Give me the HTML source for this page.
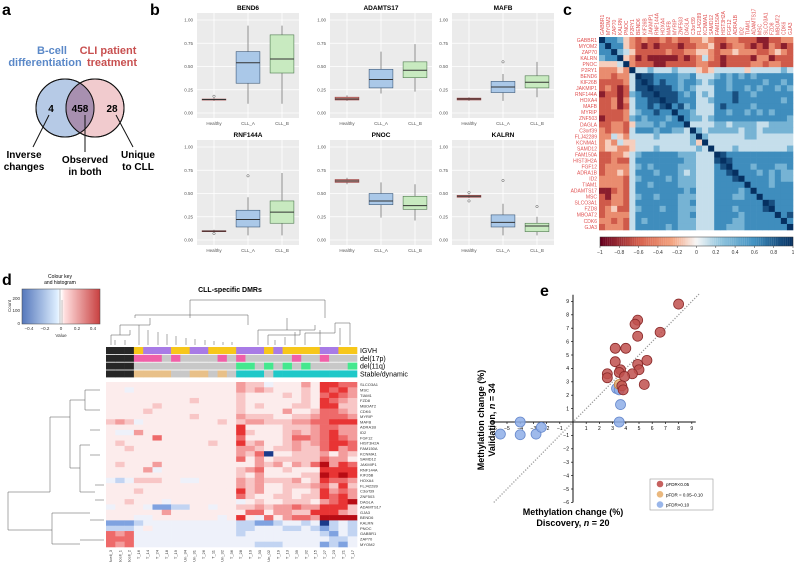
<!DOCTYPE html>
<html><head><meta charset="utf-8"><style>
body{margin:0;background:#fff;}
svg{display:block;font-family:"Liberation Sans",sans-serif;}
</style></head><body>
<svg id="fig" width="794" height="562" viewBox="0 0 794 562" xmlns="http://www.w3.org/2000/svg">
<g>
<text x="2" y="15" font-size="16" font-weight="bold">a</text>
<circle cx="65" cy="108" r="29" fill="#a9c1e2" fill-opacity="0.85" stroke="#111" stroke-width="1"/>
<circle cx="95" cy="108" r="29" fill="#e8a9ad" fill-opacity="0.6" stroke="#111" stroke-width="1"/>
<path d="M80,83 A29,29 0 0 1 80,133 A29,29 0 0 1 80,83Z" fill="#a890b0"/>
<circle cx="65" cy="108" r="29" fill="none" stroke="#111" stroke-width="1"/>
<circle cx="95" cy="108" r="29" fill="none" stroke="#111" stroke-width="1"/>
<text x="52" y="54" font-size="11" font-weight="bold" fill="#5a88c8" text-anchor="middle">B-cell</text>
<text x="45" y="66" font-size="11" font-weight="bold" fill="#5a88c8" text-anchor="middle">differentiation</text>
<text x="108" y="54" font-size="11" font-weight="bold" fill="#c85050" text-anchor="middle">CLI patient</text>
<text x="112" y="66" font-size="11" font-weight="bold" fill="#c85050" text-anchor="middle">treatment</text>
<text x="51" y="112" font-size="10" font-weight="bold" text-anchor="middle">4</text>
<text x="80" y="112" font-size="10" font-weight="bold" text-anchor="middle">458</text>
<text x="112" y="112" font-size="10" font-weight="bold" text-anchor="middle">28</text>
<line x1="49" y1="115" x2="33" y2="147" stroke="#111"/>
<line x1="85" y1="115" x2="85" y2="152" stroke="#111"/>
<line x1="116" y1="115" x2="133" y2="147" stroke="#111"/>
<text x="24" y="158" font-size="10" font-weight="bold" text-anchor="middle">Inverse</text>
<text x="24" y="170" font-size="10" font-weight="bold" text-anchor="middle">changes</text>
<text x="85" y="163" font-size="10" font-weight="bold" text-anchor="middle">Observed</text>
<text x="85" y="175" font-size="10" font-weight="bold" text-anchor="middle">in both</text>
<text x="138" y="158" font-size="10" font-weight="bold" text-anchor="middle">Unique</text>
<text x="138" y="170" font-size="10" font-weight="bold" text-anchor="middle">to CLL</text>
</g>
<text x="150" y="15" font-size="16" font-weight="bold">b</text>
<text x="563" y="15" font-size="16" font-weight="bold">c</text>
<text x="2" y="285" font-size="16" font-weight="bold">d</text>
<text x="540" y="296" font-size="16" font-weight="bold">e</text>
<g id="pb"></g>
<g id="pc"></g>
<g id="pd">
<text x="230" y="292" font-size="7" font-weight="bold" text-anchor="middle">CLL-specific DMRs</text>
<text x="60" y="278" font-size="5" text-anchor="middle">Colour key</text>
<text x="60" y="284" font-size="5" text-anchor="middle">and histogram</text>
<defs><linearGradient id="ck" x1="0" x2="1"><stop offset="0" stop-color="#5577bb"/><stop offset="0.45" stop-color="#ddeeff"/><stop offset="0.5" stop-color="#ffffff"/><stop offset="0.55" stop-color="#ffdddd"/><stop offset="1" stop-color="#c84040"/></linearGradient></defs>
<rect x="22" y="289" width="78" height="35" fill="url(#ck)" stroke="#444" stroke-width="0.5"/>
<path d="M60,289 L60,324 M62,300 L62,324" stroke="#888" stroke-width="0.5" fill="none"/>
<g font-size="4.5" fill="#333"><text x="20" y="325" text-anchor="end">0</text><text x="20" y="312" text-anchor="end">100</text><text x="20" y="300" text-anchor="end">200</text>
<text x="29" y="330" text-anchor="middle">−0.4</text><text x="45" y="330" text-anchor="middle">−0.2</text><text x="61" y="330" text-anchor="middle">0</text><text x="77" y="330" text-anchor="middle">0.2</text><text x="93" y="330" text-anchor="middle">0.4</text>
<text x="61" y="337" text-anchor="middle">Value</text><text x="11" y="306" transform="rotate(-90 11 306)" text-anchor="middle">Count</text></g>
<g stroke="#555" stroke-width="0.5" fill="none">
<path d="M190,318 V300 H325 V318 M135,318 V315 H248 V325 M120,335 V325 H150 V318 M111,345 V335 H130 V330 M115,345 V340 M125,345 V340 M139,345 V325 M148,345 V330 M158,345 V332 M167,345 V334 M176,345 V336 M186,345 V338 M195,345 V339 M205,345 V340 M214,345 V341 M223,345 V342 M232,345 V342 M287,318 V330 H258 V345 M287,330 H315 V325 M268,345 V335 H300 V330 M275,345 V340 M285,345 V337 M295,345 V332 M305,345 V333 H335 V323 H350 V345 M320,345 V330 M340,345 V328"/>
</g>
<g stroke="#555" stroke-width="0.5" fill="none">
<path d="M8,492 H50 V417 H70 M8,492 V530 H50 M50,530 H52 V513 H90 M52,530 V544 H80 M70,400 V468 M70,400 H85 V390 H100 M85,400 V410 H100 M70,468 H80 V445 H90 M80,468 V492 H95 M90,430 H100 M90,455 H100 M95,485 H104 M95,500 H104 M90,520 H104 M80,540 H104"/>
</g>
</g>
<g id="pe"></g>
</svg>
<script>
const NS="http://www.w3.org/2000/svg";
function mk(tag,attrs,parent,txt){const e=document.createElementNS(NS,tag);for(const k in attrs)e.setAttribute(k,attrs[k]);if(txt!==undefined)e.textContent=txt;parent.appendChild(e);return e;}

const genes=["BEND6","ADAMTS17","MAFB","RNF144A","PNOC","KALRN"];
const groups=["Healthy","CLL_A","CLL_B"];
const healthyStats=[[0.13,0.14,0.145,0.15,0.16],[0.13,0.14,0.15,0.17,0.19],[0.13,0.14,0.15,0.16,0.17],[0.08,0.09,0.095,0.10,0.11],[0.60,0.62,0.635,0.65,0.67],[0.45,0.46,0.47,0.48,0.49]];
const cllAStats=[[0.10,0.32,0.54,0.66,0.94],[0.21,0.27,0.36,0.47,0.66],[0.13,0.22,0.28,0.34,0.42],[0.05,0.14,0.22,0.32,0.46],[0.24,0.38,0.42,0.50,0.62],[0.05,0.14,0.19,0.27,0.39]];
const cllBStats=[[0.10,0.43,0.58,0.84,0.94],[0.23,0.38,0.46,0.55,0.74],[0.17,0.27,0.33,0.40,0.55],[0.05,0.18,0.30,0.42,0.72],[0.21,0.33,0.37,0.47,0.60],[0.05,0.09,0.15,0.18,0.25]];
const outliersH=[[0.18],[],[],[0.07],[],[0.51,0.42]];
const outliersA=[[],[],[0.55],[0.69],[],[0.64]];
const outliersB=[[],[],[],[],[],[0.36]];
const bTicks=[0,0.25,0.5,0.75,1.0];
const bTickLabels=["0.00","0.25","0.50","0.75","1.00"];

(function(){
 const pb=document.getElementById('pb');
 const px=[197,330,452], py=[13,140], pw=102, ph=[105,105];
 const fills=["#d4948c","#aac8e8","#c8eac0"], strokes=["#9a3a3a","#3c5878","#4f7a4f"];
 const stats=[healthyStats,cllAStats,cllBStats], outs=[outliersH,outliersA,outliersB];
 genes.forEach((g,gi)=>{
  const x0=px[gi%3], y0=py[Math.floor(gi/3)];
  const yTop=y0+7, yBot=y0+100;
  const Y=v=>yBot-(v-0)*(yBot-yTop)/1.0;
  const X=i=>x0+pw*(i+0.5)/3;
  const grp=mk('g',{},pb);
  
  
  mk('rect',{x:x0,y:y0,width:pw,height:ph[0],fill:"#ebebeb"},grp);
  bTicks.forEach((t,ti)=>{
   mk('line',{x1:x0,x2:x0+pw,y1:Y(t),y2:Y(t),stroke:"#fff","stroke-width":0.8},grp);
   const tl=mk('text',{x:x0-4,y:Y(t)+1.5,"font-size":4.5,fill:"#555","text-anchor":"end"},grp,bTickLabels[ti]);
   
   
  });
  groups.forEach((gr,i)=>{mk('line',{x1:X(i),x2:X(i),y1:y0,y2:y0+ph[0],stroke:"#fff","stroke-width":0.8},grp);
   const xl=mk('text',{x:X(i),y:y0+ph[0]+7,"font-size":4.5,fill:"#555","text-anchor":"middle"},grp,gr);
   
   
  });
  const tt=mk('text',{x:x0+pw/2,y:y0-3,"font-size":6.5,"font-weight":"bold","text-anchor":"middle"},grp,g);
  
  
  groups.forEach((gr,i)=>{
   const s=stats[i][gi], cx=X(i), w=pw/3*0.7;
   mk('line',{x1:cx,x2:cx,y1:Y(s[0]),y2:Y(s[4]),stroke:"#777","stroke-width":0.8},grp);
   const bx=mk('rect',{x:cx-w/2,y:Y(s[3]),width:w,height:Math.max(1,Y(s[1])-Y(s[3])),fill:fills[i],stroke:strokes[i],"stroke-width":0.6},grp);
   
   
   mk('line',{x1:cx-w/2,x2:cx+w/2,y1:Y(s[2]),y2:Y(s[2]),stroke:"#333","stroke-width":1},grp);
   outs[i][gi].forEach(o=>{const c=mk('circle',{cx:cx,cy:Y(o),r:1.2,fill:"none",stroke:"#555","stroke-width":0.5},grp);
    
    });
  });
 });
})();

const corrGenes=["GABBR1","MYOM2","ZAP70","KALRN","PNOC","P2RY1","BEND6","KIF26B","JAKMIP1","RNF144A","HOXA4","MAFB","MYRIP","ZNF503","DAGLA","C3orf39","FLJ42289","KCNMA1","SAMD12","FAM150A","HIST3H2A","FGF12","ADRA1B","ID2","TIAM1","ADAMTS17","MSC","SLCO3A1","FZD8","MBOAT2","CDK6","GJA3"];
const corrRows=[
"97764"+"3"+"2322323223"+"343"+"2233222112233",
"79774"+"3"+"2121222122"+"334"+"2123321213212",
"77965"+"4"+"2222232233"+"443"+"2334333223432",
"67794"+"3"+"1211111212"+"353"+"2122221331222",
"44459"+"3"+"2221122222"+"332"+"2122223323322",
"33343"+"9"+"5565556555"+"434"+"5555545555565",
"33233"+"5"+"9887777667"+"555"+"6767676777777",
"22223"+"5"+"8987877677"+"656"+"7767777767767",
"23212"+"5"+"8898887676"+"555"+"7767767677676",
"12212"+"6"+"7889888767"+"565"+"7778776777777",
"22313"+"5"+"7788988777"+"556"+"7778777777767",
"22312"+"5"+"7787897867"+"555"+"7877776777777",
"22223"+"5"+"6778779776"+"555"+"7767767676777",
"12223"+"6"+"7677767976"+"656"+"7777777777776",
"22332"+"4"+"6667677795"+"555"+"6656666556666",
"32332"+"5"+"7776776659"+"656"+"6666566566666",
"33543"+"5"+"5556555556"+"965"+"5555566555555",
"34354"+"4"+"5555555556"+"495"+"5555555555555",
"34433"+"4"+"5556555555"+"659"+"5556555555556",
"22334"+"5"+"6777777666"+"555"+"9877777777777",
"22322"+"5"+"7777777766"+"555"+"8987777777777",
"23333"+"5"+"6767777666"+"555"+"7897776777667",
"23343"+"5"+"7776777656"+"555"+"7789777676766",
"33332"+"5"+"6777767666"+"555"+"7778977776766",
"33332"+"5"+"7767777666"+"555"+"7777797776777",
"11232"+"5"+"7777777767"+"555"+"7777679777777",
"21332"+"5"+"6776777666"+"555"+"7776677977777",
"22332"+"5"+"7777777667"+"555"+"7777777798777",
"23422"+"5"+"6777677666"+"555"+"7776777789777",
"23333"+"5"+"7777777667"+"555"+"7777677777978",
"33232"+"5"+"7677777666"+"555"+"7776677777797",
"23332"+"5"+"7777767666"+"555"+"7766677777779"];
const corrTicks=[-1,-0.8,-0.6,-0.4,-0.2,0,0.2,0.4,0.6,0.8,1];

function lerp(a,b,t){return a.map((v,i)=>Math.round(v+(b[i]-v)*t));}
function rdbu(v){
 const stops=[[-1,[103,0,31]],[-0.6,[214,96,77]],[-0.25,[244,165,130]],[0,[247,247,247]],[0.25,[146,197,222]],[0.6,[67,147,195]],[1,[5,48,97]]];
 for(let i=0;i<stops.length-1;i++){if(v<=stops[i+1][0]){const t=(v-stops[i][0])/(stops[i+1][0]-stops[i][0]);const c=lerp(stops[i][1],stops[i+1][1],t);return `rgb(${c})`;}}
 return 'rgb(5,48,97)';
}
(function(){
 const pc=document.getElementById('pc');
 const x0=599,y0=37,W=194,H=193,n=corrGenes.length,cw=W/n,ch=H/n;
 corrRows.forEach((row,i)=>{
  for(let j=0;j<n;j++){
   const v=Math.max(-1,Math.min(1,(parseInt(row[j])-4.5)/4));
   const r=mk('rect',{x:x0+j*cw,y:y0+i*ch,width:cw+0.3,height:ch+0.3,fill:rdbu(v)},pc);
   
   
  }
  const t=mk('text',{x:x0-2,y:y0+i*ch+ch/2+1.8,"font-size":5,fill:"#e05050","text-anchor":"end"},pc,corrGenes[i]);
  
  
  const c=mk('text',{x:0,y:0,"font-size":5,fill:"#e05050",transform:`translate(${x0+i*cw+cw/2+1.8},${y0-2}) rotate(-90)`},pc,corrGenes[i]);
  
  
 });
 const cb=mk('g',{},pc);
 
 
 for(let k=0;k<100;k++){const v=-1+2*k/99;mk('rect',{x:600+k*1.93,y:237,width:2,height:9,fill:rdbu(v)},cb);}
 mk('rect',{x:600,y:237,width:193,height:9,fill:"none",stroke:"#333","stroke-width":0.5},cb);
 corrTicks.forEach(t=>{const x=600+(t+1)/2*193;mk('line',{x1:x,x2:x,y1:246,y2:248,stroke:"#333","stroke-width":0.5},cb);
  const l=mk('text',{x:x,y:254,"font-size":5,"text-anchor":"middle",fill:"#333"},cb,t===0?"0":String(t).replace('-','−'));
  
  });
})();

const dmrGenes=["SLCO3A1","MSC","TIAM1","FZD8","MBOAT2","CDK6","MYRIP","MAFB","ADRA1B","ID2","FGF12","HIST3H2A","FAM150A","KCNMA1","SAMD12","JAKMIP1","RNF144A","KIF26B","HOXA4","FLJ42289","C3orf39","ZNF503","DAGLA","ADAMTS17","GJA3","BEND6","KALRN","PNOC","GABBR1","ZAP70","MYOM2"];
const dmrSamples=["Bcell_3","Bcell_1","Bcell_2","T_16","T_14","T_24","T_18","T_19","Un_34","Un_31","T_26","T_11","Un_32","T_36","T_28","T_10","T_30","Un_02","T_19","T_13","T_39","T_32","T_15","T_27","T_23","T_21","T_17"];
const dmrRows=[
"444"+"44444444444"+"6553444648877",
"443"+"44444444444"+"6565444548786",
"444"+"44444444444"+"5444454547876",
"444"+"44444454444"+"5444444548765",
"444"+"44544444444"+"5454445548855",
"444"+"45444444444"+"5444464457765",
"444"+"44444454444"+"6555445567776",
"565"+"34444444454"+"5665556677888",
"444"+"44444444444"+"8444455567766",
"433"+"64444444444"+"8544456567866",
"444"+"44744444444"+"7444457767876",
"454"+"44444444544"+"8564456567887",
"445"+"44444444444"+"6654556557867",
"444"+"44444444444"+"6570445556465",
"444"+"44444444444"+"7464555557664",
"454"+"44644444444"+"4465646579687",
"444"+"46344444444"+"5674454448888",
"444"+"44444444444"+"5464444559898",
"323"+"55544334444"+"6565556458776",
"444"+"44444444444"+"6564455567585",
"444"+"54444444444"+"8564454458676",
"444"+"44444444444"+"7544554558786",
"445"+"44434444444"+"3454455546789",
"344"+"43112244344"+"5565667668885",
"444"+"44464444444"+"4774665588865",
"444"+"33444444434"+"8437467769999",
"111"+"23333333333"+"2211233230232",
"222"+"34333333333"+"2233322321232",
"767"+"33333333333"+"2333333332132",
"777"+"33333333333"+"3333333333223",
"767"+"33333333333"+"3322233331213"];
const igvhRow="KKKGPPPGGPPGGGPPPGPGGGGPPGG";
const del17pRow="KKKMMMSMSSSSMSMSSSSSMSSMSSS";
const del11qRow="KKKSSSSSSSSSSSNNSNSNSNSSSSN";
const stableRow="KKKTTTTSSTTSTSCCCSCCCCCCCCC";
const annotNames=["IGVH","del(17p)","del(11q)","Stable/dynamic"];
const dmrPalette=["#1a3a8a","#7fa2e0","#c2d4f2","#eef1fa","#fcecec","#f8c6c6","#f39c9c","#ee6a6a","#e83434","#b80c14"];
const annotColors={K:"#262626",G:"#f7c71a",P:"#a87be6",M:"#f060a8",S:"#c8c8c8",N:"#44e88e",T:"#e8c088",C:"#1ec8c8"};
(function(){
 const pd=document.getElementById('pd');
 const x0=106,W=251,y0=382,H=165,nc=dmrSamples.length,nr=dmrGenes.length,cw=W/nc,ch=H/nr;
 [igvhRow,del17pRow,del11qRow,stableRow].forEach((row,a)=>{
  for(let j=0;j<nc;j++){const r=mk('rect',{x:x0+j*cw,y:347+a*7.8,width:cw+0.3,height:7,fill:annotColors[row[j]]},pd);
   
   }
  const l=mk('text',{x:x0+W+3,y:347+a*7.8+6,"font-size":7},pd,annotNames[a]);
  
  
 });
 dmrRows.forEach((row,i)=>{
  for(let j=0;j<nc;j++){const r=mk('rect',{x:x0+j*cw,y:y0+i*ch,width:cw+0.3,height:ch+0.3,fill:dmrPalette[parseInt(row[j])]},pd);
   
   }
  const t=mk('text',{x:x0+W+3,y:y0+i*ch+ch/2+1.5,"font-size":4,fill:"#333"},pd,dmrGenes[i]);
  
  
 });
 dmrSamples.forEach((s,j)=>{const t=mk('text',{x:0,y:0,"font-size":4,fill:"#333","text-anchor":"end",transform:`translate(${x0+j*cw+cw/2+1.4},${y0+H+3}) rotate(-90)`},pd,s);
  
  });
})();

const sigDiscovery=[8.0,4.9,4.7,6.6,4.9,3.2,4.0,3.2,5.6,4.9,2.6,2.6,3.6,3.5,5.0,4.5,3.9,5.4,3.7,3.8];
const sigValidation=[8.8,7.6,7.3,6.7,6.4,5.5,5.5,4.5,4.6,4.3,3.6,3.3,3.9,3.7,3.9,3.6,3.4,2.8,2.7,2.4];
const midDiscovery=[3.5];
const midValidation=[2.8];
const nsDiscovery=[-5.5,-4.0,-4.0,-2.8,-2.4,3.5,3.6,3.3,3.5];
const nsValidation=[-0.9,0.0,-0.95,-0.9,-0.4,0.0,1.3,2.5,2.4];
const xTicksE=[-6,-5,-4,-3,-2,-1,1,2,3,4,5,6,7,8,9];
const yTicksE=[-6,-5,-4,-3,-2,-1,1,2,3,4,5,6,7,8,9];
(function(){
 const pe=document.getElementById('pe');
 const ox=573, oy=422, ux=13.2, uy=13.4;
 const X=v=>ox+v*ux, Y=v=>oy-v*uy;
 const diag=mk('line',{x1:X(-6),y1:Y(-6),x2:X(9.6),y2:Y(9.6),stroke:"#999","stroke-width":1.3,"stroke-dasharray":"1.2,1.6"},pe);
 
 
 mk('line',{x1:X(-6.3),x2:X(9.3),y1:oy,y2:oy,stroke:"#111","stroke-width":1},pe);
 mk('line',{x1:ox,x2:ox,y1:Y(-6),y2:Y(9.5),stroke:"#111","stroke-width":1},pe);
 xTicksE.forEach(t=>{mk('line',{x1:X(t),x2:X(t),y1:oy,y2:oy+2,stroke:"#111","stroke-width":0.7},pe);
  const l=mk('text',{x:X(t),y:oy+8,"font-size":5,"text-anchor":"middle"},pe,String(t).replace('-','−'));
  
  });
 yTicksE.forEach(t=>{mk('line',{x1:ox-2,x2:ox,y1:Y(t),y2:Y(t),stroke:"#111","stroke-width":0.7},pe);
  const l=mk('text',{x:ox-4,y:Y(t)+1.8,"font-size":5,"text-anchor":"end"},pe,String(t).replace('-','−'));
  
  });
 function pts(xs,ys,fill,stroke,name){xs.forEach((v,i)=>{const c=mk('circle',{cx:X(v),cy:Y(ys[i]),r:5,fill:fill,"fill-opacity":0.85,stroke:stroke,"stroke-width":0.8},pe);
  
  });}
 pts(nsDiscovery,nsValidation,"#8eaee8","#6688cc","point-ns");
 pts(midDiscovery,midValidation,"#e8b070","#c08040","point-mid");
 pts(sigDiscovery,sigValidation,"#c0504e","#8a2a2a","point-sig");
 const xt=mk('text',{x:573,y:515,"font-size":9,"font-weight":"bold","text-anchor":"middle"},pe,"Methylation change (%)");
 
 
 const xt2=mk('text',{x:573,y:526,"font-size":9,"font-weight":"bold","text-anchor":"middle"},pe);
 xt2.innerHTML='Discovery, <tspan font-style="italic">n</tspan> = 20';
 const yt=mk('text',{x:0,y:0,"font-size":9,"font-weight":"bold","text-anchor":"middle",transform:"translate(484,420) rotate(-90)"},pe,"Methylation change (%)");
 
 
 const yt2=mk('text',{x:0,y:0,"font-size":9,"font-weight":"bold","text-anchor":"middle",transform:"translate(495,420) rotate(-90)"},pe);
 yt2.innerHTML='Validation, <tspan font-style="italic">n</tspan> = 34';
 const lg=mk('g',{},pe);
 
 
 mk('rect',{x:650,y:479,width:63,height:31,fill:"#fff",stroke:"#999","stroke-width":0.6},lg);
 [["#c0504e","pFDR<0.05"],["#e8b070","pFDR = 0.05–0.10"],["#8eaee8","pFDR>0.10"]].forEach((e,i)=>{
  mk('circle',{cx:660,cy:484+i*10.3,r:3.3,fill:e[0],"fill-opacity":0.9},lg);
  const t=mk('text',{x:666,y:486+i*10.3,"font-size":4.5},lg,e[1]);
  
  
 });
})();
</script>
</body></html>
